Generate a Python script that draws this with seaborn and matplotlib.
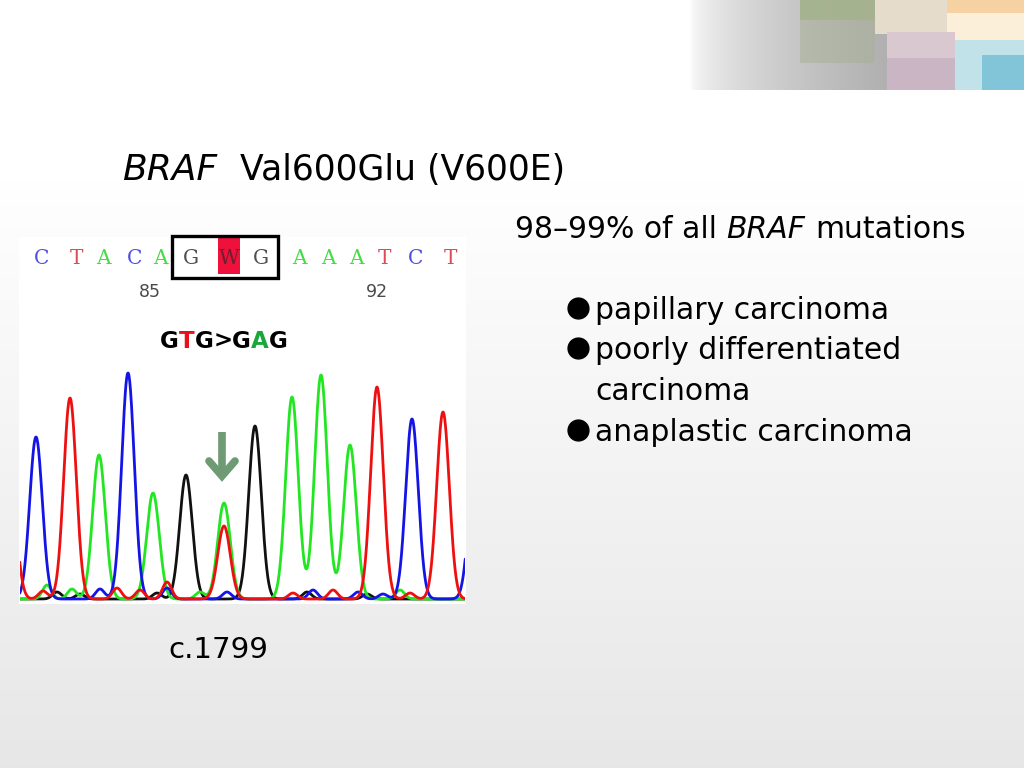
import numpy as np
import pandas as pd
import matplotlib
matplotlib.use("Agg")
import matplotlib.pyplot as plt
import seaborn as sns
from matplotlib.patches import Rectangle

# ---------------- data ----------------
seq_letters = ["C", "T", "A", "C", "A", "G", "W", "G", "A", "A", "A", "T", "C", "T"]
seq_numbers = ["85", "92"]

# main chromatogram peaks (scan position, signal height, base)
main_base = ["T", "C", "T", "A", "C", "A", "G", "A", "T", "G", "A", "A", "A", "T", "C", "T", "C"]
main_pos = [-10, 16, 50, 79, 108, 133, 166, 204, 204, 235, 272, 301, 330, 357, 392, 423, 455]
main_height = [123, 162, 201, 144, 226, 106, 124, 96, 73, 173, 202, 224, 154, 212, 180, 187, 133]

# small background peaks (noise)
minor_base = ["T", "T", "T", "T", "T", "T", "T",
              "A", "A", "A", "A",
              "C", "C", "C", "C", "C", "C",
              "G", "G", "G", "G", "G"]
minor_pos = [23, 97, 120, 147, 273, 313, 390,
             27, 52, 180, 380,
             80, 147, 207, 293, 338, 363,
             37, 60, 137, 287, 347]
minor_height = [8, 11, 9, 17, 6, 9, 6,
                14, 10, 7, 9,
                10, 11, 7, 9, 7, 5,
                7, 5, 6, 7, 5]

title_italic = "BRAF"
title_rest = "Val600Glu (V600E)"
header_parts = [("98\u201399% of all", "normal"), ("BRAF", "italic"), ("mutations", "normal")]
bullets = ["papillary carcinoma", "poorly differentiated", "anaplastic carcinoma"]
bullet_cont = "carcinoma"
mutation_parts = [("G", "black"), ("T", "#e8101a"), ("G", "black"), (">", "black"),
                  ("G", "black"), ("A", "#16a83c"), ("G", "black")]
position_label = "c.1799"

base_colors = {"A": "#22e622", "C": "#1414e6", "G": "#111111", "T": "#ee1010"}
letter_colors = {"A": "#44dd44", "C": "#4f4fe0", "G": "#505050", "T": "#e04a55", "W": "#6a2030"}

# ---------------- figure ----------------
sns.set_theme(style="white")
plt.rcParams["font.family"] = ["DejaVu Sans"]
plt.rcParams["text.color"] = "black"
fig = plt.figure(figsize=(10.24, 7.68), dpi=100)
renderer = fig.canvas.get_renderer()

bg = fig.add_axes([0, 0, 1, 1])
bg.set_xlim(0, 1024)
bg.set_ylim(768, 0)
bg.axis("off")

# slide background gradient
g = np.ones((768, 1, 3))
yy = np.arange(768)
v = np.clip((yy - 180) / (768 - 180), 0, 1)
shade = 1 - 0.095 * v
g[:, 0, :] = shade[:, None]
bg.imshow(g, extent=(0, 1024, 768, 0), aspect="auto", zorder=0)

# top-right decoration
grad = np.zeros((1, 256, 4))
t = np.linspace(0, 1, 256)
grad[0, :, 0:3] = 0.69
grad[0, :, 3] = t ** 0.55
bg.imshow(grad, extent=(690, 890, 90, 0), aspect="auto", zorder=1)
deco_rects = [
    (800, 0, 875, 63, "#a9b097", 0.55),
    (800, 0, 875, 20, "#a3b28a", 0.8),
    (875, 0, 1024, 34, "#e6dccb", 1.0),
    (947, 0, 1024, 40, "#fbefd9", 1.0),
    (947, 0, 1024, 13, "#f6d2a2", 1.0),
    (887, 32, 955, 90, "#dac8d1", 1.0),
    (887, 58, 962, 90, "#cab5c4", 1.0),
    (955, 40, 1024, 90, "#c2e2ea", 1.0),
    (982, 55, 1024, 90, "#82c5d8", 1.0),
]
for x0, y0, x1, y1, c, a in deco_rects:
    bg.add_patch(Rectangle((x0, y0), x1 - x0, y1 - y0, color=c, lw=0, alpha=a, zorder=2))

# white chromatogram panel
bg.add_patch(Rectangle((19, 237), 447, 367, color="white", lw=0, zorder=3))

# sequence letters
letter_x = [42, 77, 103, 135, 160, 191, 229, 261, 299, 328, 356, 384, 416, 451]
bg.add_patch(Rectangle((218, 238), 22, 36, color="#f0103c", lw=0, zorder=4))
for lx, L in zip(letter_x, seq_letters):
    bg.text(lx, 258, L, ha="center", va="center", fontsize=14.5, family="DejaVu Serif",
            color=letter_colors[L], zorder=5)
bg.add_patch(Rectangle((172, 236), 106, 42, fill=False, edgecolor="black", lw=2.4, zorder=6))
for nx, n in zip([150, 377], seq_numbers):
    bg.text(nx, 292, n, ha="center", va="center", fontsize=12.5, color="#4a4a4a", zorder=5)


def fit(ax, x, y, s, target_w, **kw):
    tt = ax.text(x, y, s, fontsize=20, **kw)
    w = tt.get_window_extent(renderer).width
    tt.set_fontsize(20 * target_w / w)
    return tt


# mutation label
x = 160
for ch, col in mutation_parts:
    tt = bg.text(x, 348, ch, fontsize=16.5, fontweight="bold", color=col, va="baseline", zorder=5)
    x += tt.get_window_extent(renderer).width

# arrow
arrow_col = "#6f9b74"
bg.plot([222, 222], [432, 474], color=arrow_col, lw=5.5, solid_capstyle="butt", zorder=7)
bg.plot([209, 222, 235], [461, 476, 461], color=arrow_col, lw=5.5,
        solid_capstyle="round", solid_joinstyle="miter", zorder=7)

# title
fit(bg, 122, 180, title_italic, 95, style="italic", va="baseline", color="black", zorder=5)
fit(bg, 240, 180, title_rest, 326, va="baseline", color="black", zorder=5)

# right text
ref = fit(bg, 595, 319, bullets[0], 289, va="baseline", color="black", zorder=5)
fs = ref.get_fontsize() * 1.02
ref.set_fontsize(fs)
space_w = fs * 100 / 72 * 0.32
x = 515
for part, sty in header_parts:
    tt = bg.text(x, 238, part, fontsize=fs, style=sty, va="baseline", color="black", zorder=5)
    x += tt.get_window_extent(renderer).width + space_w
for by, btxt in zip([359, 441], bullets[1:]):
    bg.text(595, by, btxt, fontsize=fs, va="baseline", color="black", zorder=5)
for by in [319, 359, 441]:
    bg.plot(578, by - 11, "o", color="black", markersize=15, zorder=5)
bg.text(595, 400, bullet_cont, fontsize=fs, va="baseline", color="black", zorder=5)

fit(bg, 168, 658, position_label, 100, va="baseline", color="black", zorder=5)

# ---------------- chromatogram ----------------
ax = fig.add_axes([20 / 1024, (768 - 603) / 768, 445 / 1024, 243 / 768])
ax.patch.set_alpha(0)
xs = np.linspace(-25, 470, 1400)
rows = []
for b in ["A", "C", "G", "T"]:
    ysig = np.zeros_like(xs)
    for p, h, bb in zip(main_pos, main_height, main_base):
        if bb == b:
            ysig += h * np.exp(-(xs - p) ** 2 / (2 * 6.3 ** 2))
    for p, h, bb in zip(minor_pos, minor_height, minor_base):
        if bb == b:
            ysig += h * np.exp(-(xs - p) ** 2 / (2 * 4.5 ** 2))
    rows.append(pd.DataFrame({"scan": xs, "signal": ysig, "base": b}))
df = pd.concat(rows, ignore_index=True)

sns.lineplot(data=df, x="scan", y="signal", hue="base", hue_order=["G", "A", "C", "T"],
             palette=base_colors, estimator=None, sort=False, linewidth=2.0,
             legend=False, ax=ax)
ax.set_xlim(0, 445)
ax.set_ylim(-4, 239)
ax.axis("off")

fig.savefig("out.png", dpi=100)
